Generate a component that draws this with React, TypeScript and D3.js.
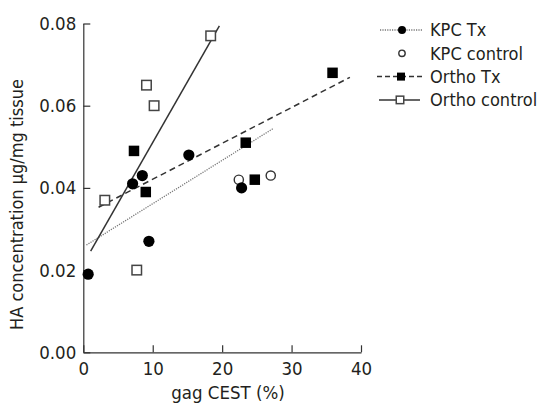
import { useEffect, useRef } from "react";
import * as d3 from "d3";

const FONT = "'DejaVu Sans Condensed', 'DejaVu Sans', sans-serif";
const INK = "#231f20";

// data: [gag CEST %, HA µg/mg]
const kpcTx = [[0.7, 0.019], [7.1, 0.041], [8.5, 0.043], [9.45, 0.027], [15.2, 0.048], [22.8, 0.040]];
const kpcControl = [[22.4, 0.042], [27.0, 0.043]];
const orthoTx = [[7.3, 0.049], [9.0, 0.039], [23.4, 0.051], [24.7, 0.042], [35.9, 0.068]];
const orthoControl = [[3.1, 0.037], [7.7, 0.020], [9.1, 0.065], [10.2, 0.060], [18.35, 0.077]];

// regression lines (endpoints as drawn)
const kpcTxFit = [[0.45, 0.0261], [27.4, 0.0545]];
const orthoTxFit = [[2.2, 0.0353], [38.4, 0.0669]];
const orthoControlFit = [[1.06, 0.0246], [19.6, 0.0794]];

const xTicks = [0, 10, 20, 30, 40];
const yTicks = [0, 0.02, 0.04, 0.06, 0.08];

const legendLabels = ["KPC Tx", "KPC control", "Ortho Tx", "Ortho control"];

export default function App() {
  const ref = useRef<SVGSVGElement>(null);

  useEffect(() => {
    const svg = d3.select(ref.current);
    svg.selectAll("*").remove();

    const x = d3.scaleLinear().domain([0, 40]).range([83.3, 361]);
    const y = d3.scaleLinear().domain([0, 0.08]).range([352.3, 23.5]);

    // axes, ticks point inward
    const gx = svg.append("g").attr("transform", `translate(0,${y(0)})`)
      .call(d3.axisBottom(x).tickValues(xTicks).tickSizeInner(-7).tickSizeOuter(0).tickPadding(10)
        .tickFormat(d3.format("d")));
    const gy = svg.append("g").attr("transform", `translate(${x(0)},0)`)
      .call(d3.axisLeft(y).tickValues(yTicks).tickSizeInner(-7).tickSizeOuter(0).tickPadding(7)
        .tickFormat(d3.format(".2f")));
    [gx, gy].forEach(g => {
      g.select(".domain").attr("stroke", "#333").attr("stroke-width", 1.2);
      g.selectAll(".tick line").attr("stroke", "#333").attr("stroke-width", 1.2);
      g.selectAll(".tick text").attr("fill", INK).attr("font-size", 18.5).attr("font-family", FONT);
    });

    // fit lines
    const line = d3.line<number[]>().x(d => x(d[0])).y(d => y(d[1]));
    svg.append("path").datum(kpcTxFit).attr("d", line).attr("fill", "none")
      .attr("stroke", "#777").attr("stroke-width", 1.3).attr("stroke-dasharray", "1.2,1.2");
    svg.append("path").datum(orthoTxFit).attr("d", line).attr("fill", "none")
      .attr("stroke", "#333").attr("stroke-width", 1.5).attr("stroke-dasharray", "6,4");
    svg.append("path").datum(orthoControlFit).attr("d", line).attr("fill", "none")
      .attr("stroke", "#333").attr("stroke-width", 1.5);

    // markers
    const drawCircle = (g: any, cx: number, cy: number, r: number, filled: boolean) =>
      g.append("circle").attr("cx", cx).attr("cy", cy).attr("r", r)
        .attr("fill", filled ? "#000" : "#fff").attr("stroke", filled ? "#000" : "#333")
        .attr("stroke-width", filled ? 0 : 1.4);
    const drawSquare = (g: any, cx: number, cy: number, s: number, filled: boolean) =>
      g.append("rect").attr("x", cx - s / 2).attr("y", cy - s / 2).attr("width", s).attr("height", s)
        .attr("fill", filled ? "#000" : "#fff").attr("stroke", filled ? "#000" : "#444")
        .attr("stroke-width", filled ? 0 : 1.5);

    orthoControl.forEach(d => drawSquare(svg, x(d[0]), y(d[1]), 9.5, false));
    kpcControl.forEach(d => drawCircle(svg, x(d[0]), y(d[1]), 4.6, false));
    orthoTx.forEach(d => drawSquare(svg, x(d[0]), y(d[1]), 10.5, true));
    kpcTx.forEach(d => drawCircle(svg, x(d[0]), y(d[1]), 5.6, true));

    // axis titles
    svg.append("text").attr("x", 228).attr("y", 399).attr("text-anchor", "middle")
      .attr("fill", INK).attr("font-size", 18.5).attr("font-family", FONT).text("gag CEST (%)");
    svg.append("text").attr("transform", `translate(23,${(77 + 332) / 2}) rotate(-90)`)
      .attr("text-anchor", "middle").attr("fill", INK).attr("font-size", 18).attr("font-family", FONT)
      .text("HA concentration μg/mg tissue");

    // legend
    const lg = svg.append("g");
    legendLabels.forEach((label, i) => {
      const ly = 30 + i * 23.3;
      if (i === 0) lg.append("line").attr("x1", 380).attr("x2", 423).attr("y1", ly).attr("y2", ly)
        .attr("stroke", "#777").attr("stroke-width", 1.3).attr("stroke-dasharray", "1.2,1.2");
      if (i === 2) lg.append("line").attr("x1", 377).attr("x2", 423).attr("y1", ly).attr("y2", ly)
        .attr("stroke", "#333").attr("stroke-width", 1.5).attr("stroke-dasharray", "5,3");
      if (i === 3) lg.append("line").attr("x1", 379).attr("x2", 420).attr("y1", ly).attr("y2", ly)
        .attr("stroke", "#333").attr("stroke-width", 1.5);
      if (i === 0) drawCircle(lg, 402, ly, 4, true);
      if (i === 1) drawCircle(lg, 402, ly, 3.2, false);
      if (i === 2) drawSquare(lg, 401, ly, 8, true);
      if (i === 3) drawSquare(lg, 400, ly, 7.5, false);
      lg.append("text").attr("x", 430).attr("y", ly).attr("dy", "0.36em")
        .attr("fill", INK).attr("font-size", 18).attr("font-family", FONT).text(label);
    });
  }, []);

  return (
    <div style={{ position: "fixed", left: 0, top: 0 }}>
      <svg ref={ref} width={541} height={408} style={{ display: "block", background: "#fff" }} />
    </div>
  );
}
